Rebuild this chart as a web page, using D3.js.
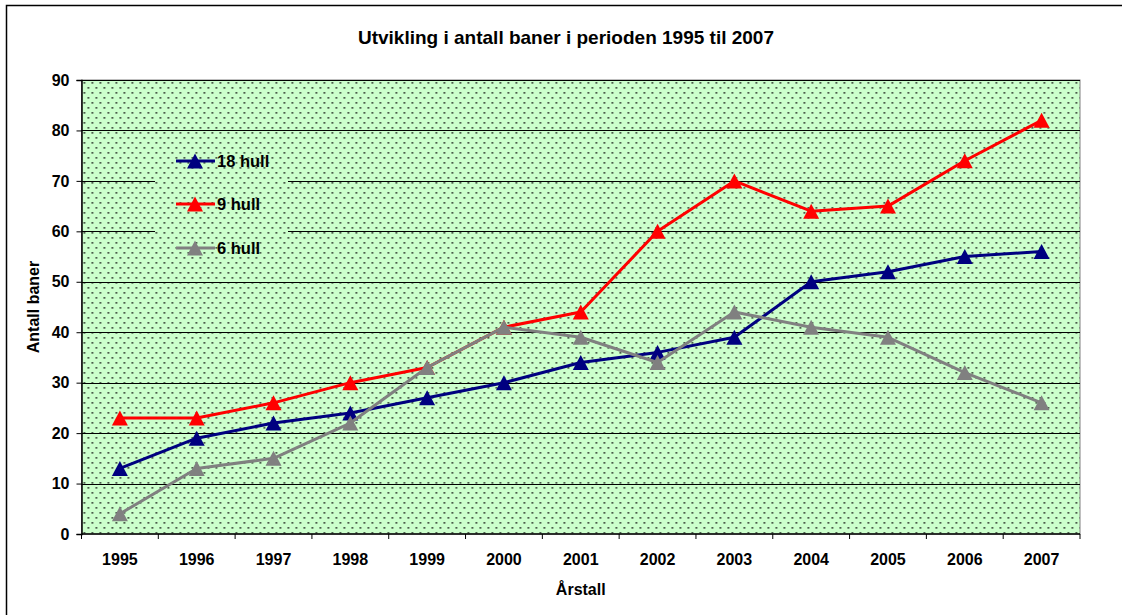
<!DOCTYPE html>
<html><head><meta charset="utf-8">
<script src="https://cdn.jsdelivr.net/npm/d3@7"></script>
<style>body{margin:0;background:#fff}svg{display:block}text{font-family:"Liberation Sans",Arial,sans-serif;font-weight:bold;fill:#000}</style>
</head><body><svg id="c" width="1122" height="615"></svg>
<script>
const years = ["1995","1996","1997","1998","1999","2000","2001","2002","2003","2004","2005","2006","2007"];
const hull18 = [13,19,22,24,27,30,34,36,39,50,52,55,56];
const hull9 = [23,23,26,30,33,41,44,60,70,64,65,74,82];
const hull6 = [4,13,15,22,33,41,39,34,44,41,39,32,26];
const seriesNames = ["18 hull","9 hull","6 hull"];
const seriesColors = ["#000080","#ff0000","#808080"];
const yTicks = [0,10,20,30,40,50,60,70,80,90];
const title = "Utvikling i antall baner i perioden 1995 til 2007";
const xTitle = "Årstall";
const yTitle = "Antall baner";

const svg = d3.select("#c");
const L = 81.5, R = 1080, T = 80, B = 534;
const x = d3.scaleBand().domain(years).range([L, R]);
const y = d3.scaleLinear().domain([0, 90]).range([B, T]);

const defs = svg.append("defs");
const pat = defs.append("pattern").attr("id","dots").attr("patternUnits","userSpaceOnUse")
  .attr("width",8).attr("height",10).attr("x",L).attr("y",T);
pat.append("rect").attr("width",8).attr("height",10).attr("fill","#ccffcc");
pat.append("rect").attr("x",2).attr("y",2).attr("width",1.7).attr("height",1.7).attr("fill","#344034");
pat.append("rect").attr("x",6).attr("y",7).attr("width",1.7).attr("height",1.7).attr("fill","#344034");

// outer border
svg.append("rect").attr("x",6.5).attr("y",5.5).attr("width",1200).attr("height",700)
  .attr("fill","none").attr("stroke","#000").attr("stroke-width",1.5);

// plot area
svg.append("rect").attr("x",L).attr("y",T).attr("width",R-L).attr("height",B-T)
  .attr("fill","url(#dots)").attr("stroke","#808080").attr("stroke-width",1);

// gridlines
svg.append("g").selectAll("line").data(yTicks.filter(d=>d>0)).join("line")
  .attr("x1",L).attr("x2",R).attr("y1",d=>Math.round(y(d))+0.5).attr("y2",d=>Math.round(y(d))+0.5)
  .attr("stroke","#000").attr("stroke-width",1);

// legend box (hides gridlines)
const lg = svg.append("g");
lg.append("rect").attr("x",155).attr("y",140).attr("width",133).attr("height",128).attr("fill","url(#dots)");

// axes
const yAxis = d3.axisLeft(y).tickValues(yTicks).tickSize(5).tickPadding(7);
const gy = svg.append("g").attr("transform",`translate(${L},0)`).call(yAxis);
gy.select(".domain").attr("stroke","#000").attr("stroke-width",1.5);
gy.selectAll(".tick line").attr("stroke","#000");
gy.selectAll(".tick text").style("font-size","16px").style("font-family","'Liberation Sans',Arial,sans-serif").style("font-weight","bold").attr("fill","#000");

const gx = svg.append("g").attr("transform",`translate(0,${B})`);
gx.append("line").attr("x1",L).attr("x2",R).attr("y1",0).attr("y2",0).attr("stroke","#000").attr("stroke-width",1.5);
const bounds = years.map(d=>x(d)).concat([R]);
gx.selectAll("line.t").data(bounds).join("line").attr("class","t")
  .attr("x1",d=>d).attr("x2",d=>d).attr("y1",0).attr("y2",5).attr("stroke","#000");
gx.selectAll("text").data(years).join("text")
  .attr("x",d=>x(d)+x.bandwidth()/2).attr("y",31).attr("text-anchor","middle")
  .style("font-size","16px").text(d=>d);

// titles
svg.append("text").attr("x",566).attr("y",44).attr("text-anchor","middle").style("font-size","19px").text(title);
svg.append("text").attr("x",(L+R)/2).attr("y",595).attr("text-anchor","middle").style("font-size","16px").text(xTitle);
svg.append("text").attr("transform",`translate(39,${(T+B)/2}) rotate(-90)`).attr("text-anchor","middle").style("font-size","16px").text(yTitle);

// series
const tri = "M0,-7.5L8,7.5L-8,7.5Z";
const data = [hull18, hull9, hull6];
const line = d3.line().x((d,i)=>x(years[i])+x.bandwidth()/2).y(d=>y(d));
data.forEach((vals, s) => {
  const g = svg.append("g");
  g.append("path").datum(vals).attr("d",line).attr("fill","none")
    .attr("stroke",seriesColors[s]).attr("stroke-width",3).attr("stroke-linejoin","round");
  g.selectAll("path.m").data(vals).join("path").attr("class","m")
    .attr("transform",(d,i)=>`translate(${x(years[i])+x.bandwidth()/2},${y(d)})`)
    .attr("d",tri).attr("fill",seriesColors[s]);
});

// legend entries
const ly = [161, 204, 248];
seriesNames.forEach((n, s) => {
  lg.append("line").attr("x1",176).attr("x2",215).attr("y1",ly[s]).attr("y2",ly[s])
    .attr("stroke",seriesColors[s]).attr("stroke-width",3);
  lg.append("path").attr("transform",`translate(195,${ly[s]})`).attr("d",tri).attr("fill",seriesColors[s]);
  lg.append("text").attr("x",217).attr("y",ly[s]+6).style("font-size","16.5px").text(n);
});
</script></body></html>
